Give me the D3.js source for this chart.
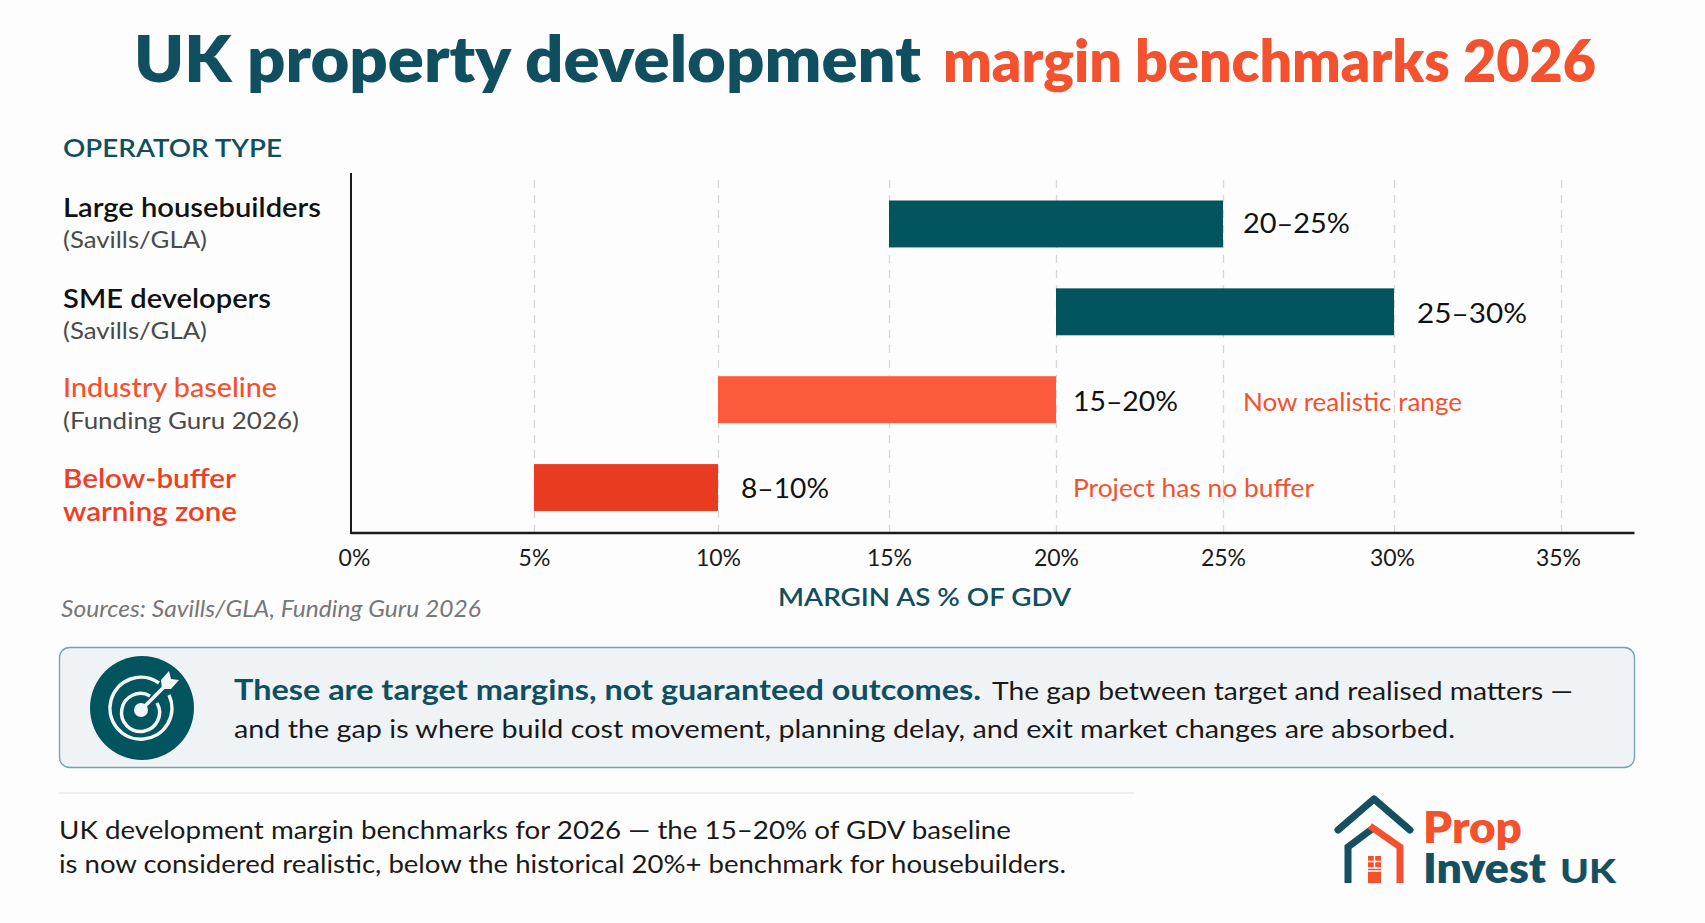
<!DOCTYPE html>
<html>
<head>
<meta charset="utf-8">
<style>
  html, body { margin: 0; padding: 0; background: #fdfdfd; }
  svg { display: block; font-family: Lato, sans-serif; }
</style>
</head>
<body>
<svg id="chart" width="1705" height="923"></svg>
<script src="https://cdn.jsdelivr.net/npm/d3@7/dist/d3.min.js"></script>
<script>
const categories = ["Large housebuilders", "SME developers", "Industry baseline", "Below-buffer"];
const rangeStart = [15, 20, 10, 5];
const rangeEnd = [25, 30, 20, 10];
const rangeLabels = ["20–25%", "25–30%", "15–20%", "8–10%"];
const tickValues = [0, 5, 10, 15, 20, 25, 30, 35];
const axisMax = 37.2;

const TEAL = "#0f4f5f";
const BAR_TEAL = "#02545f";
const CORAL = "#f4512f";
const BAR_CORAL = "#fc5a3c";
const BAR_RED = "#e93b22";
const INK = "#111";

const svg = d3.select("#chart");

// the picture's gridlines are not quite even, so the scale is piecewise
const x = d3.scaleLinear().domain(tickValues).range([351, 534, 718, 889, 1056, 1223, 1394, 1561]);
const y = d3.scaleBand().domain(categories).range([200.5, 511]).paddingInner(41 / 88).paddingOuter(0);

function label(str, x1, x2, baseline, size, fill, weight = 400, style = "normal") {
  return svg.append("text")
    .attr("x", x1).attr("y", baseline)
    .attr("textLength", x2 - x1).attr("lengthAdjust", "spacingAndGlyphs")
    .attr("font-size", size).attr("font-weight", weight).attr("font-style", style)
    .attr("fill", fill).text(str);
}

// title
label("UK property development", 134, 921, 82, 65, TEAL, 800);
label("margin benchmarks 2026", 943, 1596, 82, 58, CORAL, 800);

// row labels
label("OPERATOR TYPE", 63, 282, 157, 25, TEAL, 600);
label(categories[0], 63, 321, 217, 26, INK, 600);
label("(Savills/GLA)", 63, 207, 248, 24, "#4a4a4a");
label(categories[1], 63, 271, 308, 26, INK, 600);
label("(Savills/GLA)", 63, 207, 339, 24, "#4a4a4a");
label(categories[2], 63, 277, 397, 26, CORAL, 500);
label("(Funding Guru 2026)", 63, 299, 429, 24, "#4a4a4a");
label(categories[3], 63, 236, 488, 26, "#ee3f24", 600);
label("warning zone", 63, 237, 521, 26, "#ee3f24", 600);

// gridlines
svg.append("g")
  .attr("transform", "translate(0,533)")
  .call(d3.axisBottom(x).tickValues(tickValues.slice(1)).tickSize(-360).tickFormat(""))
  .call((g) => g.select(".domain").remove())
  .selectAll("line")
  .attr("stroke", "#d4d7d9").attr("stroke-width", 1.3).attr("stroke-dasharray", "8 7");

// bars
const barFill = [BAR_TEAL, BAR_TEAL, BAR_CORAL, BAR_RED];
svg.append("g").selectAll("rect")
  .data(categories)
  .join("rect")
  .attr("x", (d, i) => x(rangeStart[i]))
  .attr("y", (d) => y(d))
  .attr("width", (d, i) => x(rangeEnd[i]) - x(rangeStart[i]))
  .attr("height", y.bandwidth())
  .attr("fill", (d, i) => barFill[i]);

// value labels and notes
const labelGap = [20, 23, 17, 23];
const labelWidth = [107, 110, 105, 88];
const labelBase = [233, 323, 411, 498];
categories.forEach((d, i) => {
  const lx = x(rangeEnd[i]) + labelGap[i];
  label(rangeLabels[i], lx, lx + labelWidth[i], labelBase[i], 27, INK);
});
label("Now realistic range", x(25) + 20, x(25) + 239, 411, 25, CORAL);
label("Project has no buffer", x(20) + 17, x(20) + 258, 497, 25, CORAL);

// axes
const tickShift = [3, 0, 0, 0, 0, 0, -2, -3];
const axis = svg.append("g")
  .attr("transform", "translate(0,533)")
  .call(d3.axisBottom(x).tickValues(tickValues).tickSize(0).tickPadding(16).tickFormat((d) => `${d}%`));
axis.select(".domain").remove();
axis.selectAll("text")
  .attr("font-family", "Lato, sans-serif").attr("font-size", 23).attr("fill", "#1a1a1a")
  .attr("dy", 0).attr("y", 33).attr("dx", (d, i) => tickShift[i]);
svg.append("line").attr("x1", x(0)).attr("x2", x(axisMax)).attr("y1", 533).attr("y2", 533)
  .attr("stroke", "#1a1a1a").attr("stroke-width", 2.4);
svg.append("line").attr("x1", x(0)).attr("x2", x(0)).attr("y1", 173).attr("y2", 534)
  .attr("stroke", "#1a1a1a").attr("stroke-width", 2);

label("MARGIN AS % OF GDV", 778, 1071, 606, 24, TEAL, 600);
label("Sources: Savills/GLA, Funding Guru 2026", 61, 481, 617, 23, "#777", 400, "italic");

// callout
svg.append("rect").attr("x", 59.5).attr("y", 647.5).attr("width", 1575).attr("height", 120).attr("rx", 10)
  .attr("fill", "#eff3f5").attr("stroke", "#6fa3ad").attr("stroke-width", 1.3);
svg.append("circle").attr("cx", 142).attr("cy", 708).attr("r", 52).attr("fill", BAR_TEAL);
const target = svg.append("g").attr("fill", "none").attr("stroke", "#f4f7f8").attr("stroke-width", 3.5);
target.append("path").attr("d", "M159 683A31 31 0 1 0 169 695");
target.append("path").attr("d", "M150 696A19 19 0 1 0 157 703");
target.append("line").attr("x1", 141).attr("y1", 710).attr("x2", 166).attr("y2", 685);
target.append("path").attr("d", "M162 689L161 680L169 671L171 679L179 680L171 689Z").attr("fill", "#f4f7f8").attr("stroke", "none");
svg.append("circle").attr("cx", 141).attr("cy", 710).attr("r", 7).attr("fill", "#f4f7f8");

label("These are target margins, not guaranteed outcomes.", 234, 981, 700, 28, TEAL, 700);
label("The gap between target and realised matters —", 992, 1573, 700, 25, "#1a1a1a");
label("and the gap is where build cost movement, planning delay, and exit market changes are absorbed.", 234, 1455, 738, 25, "#1a1a1a");

// footer
svg.append("line").attr("x1", 59).attr("x2", 1134).attr("y1", 793).attr("y2", 793)
  .attr("stroke", "#e6e8ea").attr("stroke-width", 1.5);
label("UK development margin benchmarks for 2026 — the 15–20% of GDV baseline", 59, 1011, 839, 25, "#1a1a1a");
label("is now considered realistic, below the historical 20%+ benchmark for housebuilders.", 59, 1066, 873, 25, "#1a1a1a");

// logo
const logo = svg.append("g").attr("fill", "none").attr("stroke-width", 7);
logo.append("path").attr("d", "M1338 830L1374 799L1410 830").attr("stroke", "#14505f").attr("stroke-linecap", "round").attr("stroke-linejoin", "round");
logo.append("path").attr("d", "M1348 883V847L1372 829").attr("stroke", "#14505f");
logo.append("path").attr("d", "M1370 826L1400 847V883").attr("stroke", "#f4512f");
svg.append("rect").attr("x", 1368).attr("y", 856).attr("width", 13).attr("height", 27).attr("fill", "#f4512f");
svg.append("path").attr("d", "M1368 861.5H1381M1368 868H1381M1374.5 856V868M1368 871H1381").attr("stroke", "#fdfdfd").attr("stroke-width", 1.4);
label("Prop", 1423, 1522, 843, 43, "#f4512f", 800);
label("Invest", 1423, 1546, 883, 42, "#14505f", 800);
label("UK", 1560, 1616, 883, 33, "#14505f", 900);
</script>
</body>
</html>
